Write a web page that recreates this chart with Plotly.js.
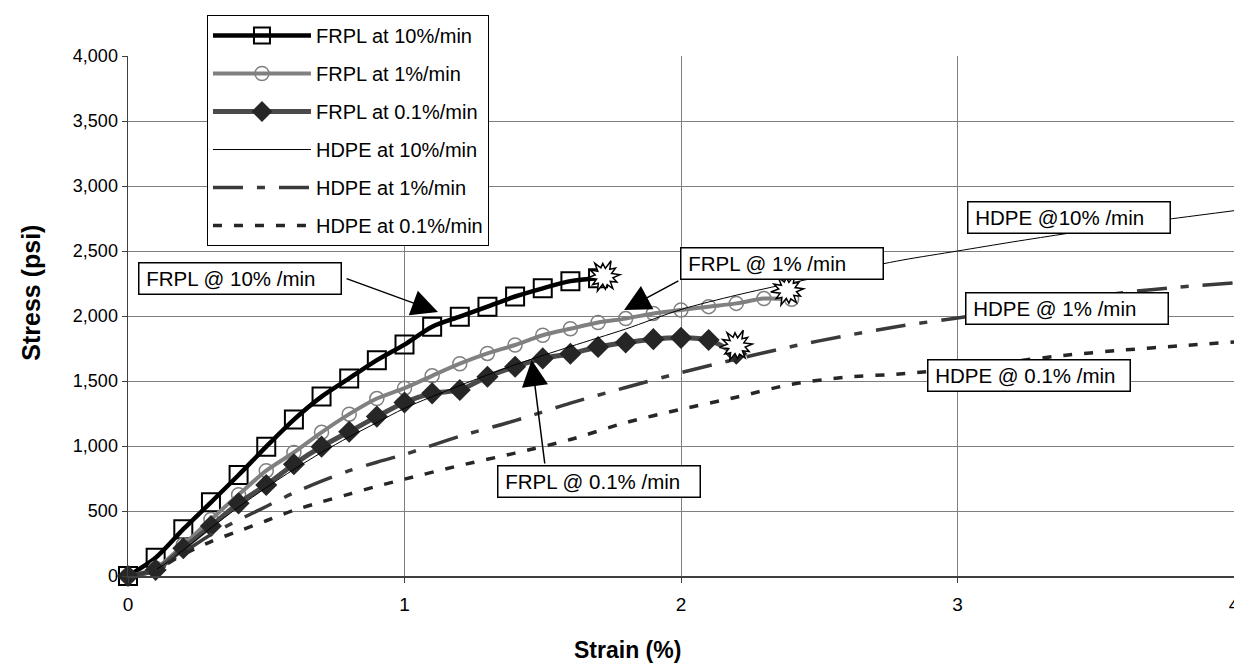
<!DOCTYPE html>
<html><head><meta charset="utf-8">
<script src="https://cdn.plot.ly/plotly-3.0.1.min.js"></script>
<style>html,body{margin:0;padding:0;background:#fff}#chart{width:1234px;height:664px}</style>
</head><body><div id="chart"></div>
<script>
// ---- data ----
const seriesNames = ["FRPL at 10%/min","FRPL at 1%/min","FRPL at 0.1%/min","HDPE at 10%/min","HDPE at 1%/min","HDPE at 0.1%/min"];

const strainFRPL10 = [0,0.1,0.2,0.3,0.4,0.5,0.6,0.7,0.8,0.9,1.0,1.1,1.2,1.3,1.4,1.5,1.6,1.7];
const stressFRPL10 = [0,140,360,567,777,995,1203,1380,1520,1660,1780,1918,1995,2072,2150,2213,2268,2290];

const strainFRPL1 = [0,0.1,0.2,0.3,0.4,0.5,0.6,0.7,0.8,0.9,1.0,1.1,1.2,1.3,1.4,1.5,1.6,1.7,1.8,1.9,2.0,2.1,2.2,2.3,2.4];
const stressFRPL1 = [0,60,240,435,625,810,950,1105,1245,1365,1445,1540,1633,1712,1777,1852,1902,1950,1980,2020,2046,2072,2097,2134,2128];

const strainFRPL01 = [0,0.1,0.2,0.3,0.4,0.5,0.6,0.7,0.8,0.9,1.0,1.1,1.2,1.3,1.4,1.5,1.6,1.7,1.8,1.9,2.0,2.1,2.2];
const stressFRPL01 = [0,46,213,385,559,700,860,995,1110,1226,1335,1405,1431,1533,1610,1674,1710,1762,1796,1822,1832,1815,1710];

const strainHDPE = [0,0.1,0.2,0.3,0.4,0.5,0.6,0.7,0.8,0.9,1.0,1.2,1.4,1.6,1.8,2.0,2.2,2.4,2.6,2.8,3.0,3.2,3.4,3.6,3.8,4.0];
const stressHDPE10 = [0,50,200,370,530,680,820,950,1070,1180,1290,1465,1625,1765,1900,2050,2160,2255,2345,2430,2500,2570,2636,2700,2755,2810];
const stressHDPE1  = [0,50,180,320,430,535,640,730,810,875,935,1075,1195,1330,1450,1565,1668,1765,1850,1925,1985,2050,2115,2180,2222,2255];
const stressHDPE01 = [0,50,165,265,345,425,505,570,630,690,745,850,945,1050,1180,1282,1375,1475,1530,1555,1595,1650,1700,1738,1770,1800];

const xTickVals = [0,1,2,3,4];
const yTickVals = [0,500,1000,1500,2000,2500,3000,3500,4000];
const xTitle = "Strain (%)";
const yTitle = "Stress (psi)";
const calloutTexts = ["FRPL @ 10% /min","FRPL @ 1% /min","FRPL @ 0.1% /min","HDPE @10% /min","HDPE @ 1% /min","HDPE @ 0.1% /min"];

// ---- styling ----
const FONT = "Liberation Sans, Arial, Helvetica, sans-serif";
const traces = [
  {x:strainFRPL10, y:stressFRPL10, name:seriesNames[0], mode:"lines+markers",
   line:{color:"#000000", width:4.5, shape:"spline", smoothing:0.8},
   marker:{symbol:"square-open", size:18, color:"#000000", line:{width:2, color:"#000000"}}},
  {x:strainFRPL1, y:stressFRPL1, name:seriesNames[1], mode:"lines+markers",
   line:{color:"#808080", width:4, shape:"spline", smoothing:0.8},
   marker:{symbol:"circle-open", size:14, color:"#808080", line:{width:1.5, color:"#808080"}}},
  {x:strainFRPL01, y:stressFRPL01, name:seriesNames[2], mode:"lines+markers",
   line:{color:"#4a4a4a", width:5, shape:"spline", smoothing:0.8},
   marker:{symbol:"diamond", size:17, color:"#262626"}},
  {x:strainHDPE, y:stressHDPE10, name:seriesNames[3], mode:"lines",
   line:{color:"#000000", width:1, shape:"spline", smoothing:0.8}},
  {x:strainHDPE, y:stressHDPE1, name:seriesNames[4], mode:"lines",
   line:{color:"#3a3a3a", width:3.5, shape:"spline", smoothing:0.8, dash:"30px,14px,8px,14px"}},
  {x:strainHDPE, y:stressHDPE01, name:seriesNames[5], mode:"lines",
   line:{color:"#262626", width:3.5, shape:"spline", smoothing:0.8, dash:"9px,12px"}}
];
traces.forEach((t,i)=>{ t.legendgroup = "g"+i; t.hoverinfo = "skip"; t.cliponaxis = false; });

// call-out boxes (left/top corner in axis units) and arrows
const boxPos = [[0.037,2418],[1.996,2533],[1.334,854],[3.033,2887],[3.027,2187],[2.889,1673]];
const arrows = [ // [tailX, tailY, tipX, tipY]
  [0.785,2292,1.121,2031],
  [1.996,2277,1.794,2046],
  [1.508,854,1.460,1662]
];
const annotations = [];
arrows.forEach(a=>annotations.push({xref:"x",yref:"y",axref:"x",ayref:"y",x:a[2],y:a[3],ax:a[0],ay:a[1],
  text:"",showarrow:true,arrowhead:2,arrowsize:3.5,arrowwidth:1.5,arrowcolor:"#000",standoff:0}));
calloutTexts.forEach((t,i)=>annotations.push({xref:"x",yref:"y",x:boxPos[i][0],y:boxPos[i][1],
  xanchor:"left",yanchor:"top",text:"&nbsp;"+t,showarrow:false,align:"left",valign:"middle",
  width:199,height:28,borderpad:1,borderwidth:1.5,bordercolor:"#000",bgcolor:"#ffffff",
  font:{family:FONT,size:20.5,color:"#000"}}));
// axis titles placed as in the reference
annotations.push({xref:"x",yref:"paper",x:1.805,y:-0.142,text:"<b>"+xTitle+"</b>",showarrow:false,
  xanchor:"center",yanchor:"middle",font:{family:FONT,size:23,color:"#000"}});
annotations.push({xref:"paper",yref:"paper",x:-0.0885,y:0.545,text:"<b>"+yTitle+"</b>",showarrow:false,textangle:-90,
  xanchor:"center",yanchor:"middle",font:{family:FONT,size:25,color:"#000"}});

// explosion markers at end of FRPL curves
function starPath(dx,dy){
  const r=[16,8,14,9,17,8,13,9,16,8,15,9,17,8,14,9,16,8,13,9,15,8,14,9];
  const n=r.length;
  return "M"+r.map((rad,i)=>{const a=i/n*2*Math.PI+0.1;return (dx+rad*Math.cos(a)).toFixed(1)+","+(dy+rad*Math.sin(a)).toFixed(1);}).join("L")+"Z";
}
const ends = [[strainFRPL10,stressFRPL10,6,2],[strainFRPL1,stressFRPL1,-4,9],[strainFRPL01,stressFRPL01,0,8]];
const shapes = ends.map(e=>({type:"path",xref:"x",yref:"y",xsizemode:"pixel",ysizemode:"pixel",
  xanchor:e[0][e[0].length-1], yanchor:e[1][e[1].length-1], path:starPath(e[2],e[3]),
  fillcolor:"#ffffff", line:{color:"#000",width:1.5}, layer:"above"}));

const layout = {
  width:1234, height:664, margin:{l:128,r:0,t:56,b:88},
  paper_bgcolor:"#fff", plot_bgcolor:"#fff",
  font:{family:FONT,size:20,color:"#000"},
  showlegend:true,
  legend:{x:0.0714,y:1.0788,xanchor:"left",yanchor:"top",bgcolor:"#fff",bordercolor:"#000",borderwidth:1,
    font:{family:FONT,size:20,color:"#000"},itemwidth:98,tracegroupgap:9,traceorder:"grouped"},
  xaxis:{range:[0,4],tickvals:xTickVals,ticktext:xTickVals.map(String),showgrid:true,gridcolor:"#7f7f7f",gridwidth:1,
    zeroline:false,showline:true,linecolor:"#404040",linewidth:1.5,ticks:"outside",ticklen:5,tickcolor:"#404040",
    tickfont:{family:FONT,size:19},ticklabelstandoff:6,ticklabeloverflow:"allow",automargin:false},
  yaxis:{range:[0,4000],tickvals:yTickVals,ticktext:yTickVals.map(v=>v.toLocaleString("en-US")),showgrid:true,gridcolor:"#7f7f7f",gridwidth:1,
    zeroline:false,showline:true,linecolor:"#404040",linewidth:1.5,ticks:"outside",ticklen:5,tickcolor:"#404040",
    tickfont:{family:FONT,size:18},automargin:false},
  annotations:annotations, shapes:shapes
};
Plotly.newPlot("chart",traces,layout,{staticPlot:true,displayModeBar:false});
</script></body></html>
